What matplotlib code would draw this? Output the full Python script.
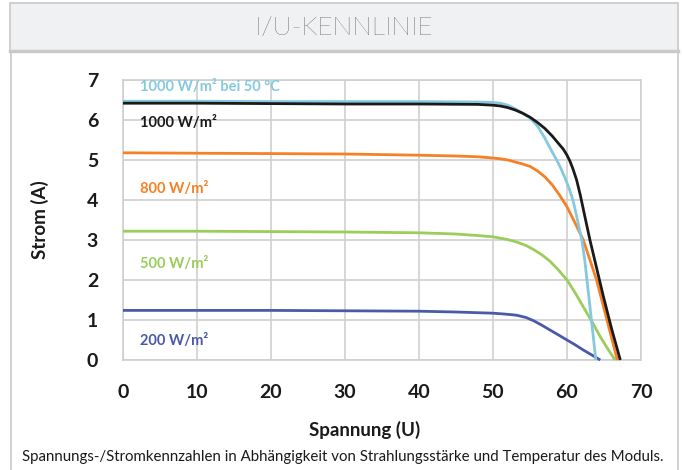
import matplotlib
matplotlib.use("Agg")
import matplotlib.pyplot as plt
from matplotlib.patches import Rectangle
from matplotlib.lines import Line2D

W, H = 682, 470

# ---- data ----
u_black = [0, 10, 20, 30, 40, 48, 50, 51, 52, 53, 54, 55, 56, 57, 58, 59, 59.5, 60,
           60.4, 60.8, 61.3, 61.8, 62.4, 63.1, 64.0, 64.9, 66.0, 67.2]
i_black = [6.42, 6.42, 6.41, 6.40, 6.40, 6.39, 6.37, 6.35, 6.31, 6.25, 6.17, 6.07, 5.94, 5.79, 5.6, 5.38, 5.27, 5.12,
           4.97, 4.78, 4.5, 4.12, 3.6, 3.0, 2.3, 1.6, 0.8, 0.0]

u_cyan = [0, 10, 20, 30, 40, 48, 50, 51, 52, 53, 54, 55, 56, 57, 58, 58.6, 59.2, 59.8, 60.3,
          60.8, 61.3, 61.7, 62.0, 62.4, 62.7, 63.0, 63.3, 63.6, 63.9]
i_cyan = [6.47, 6.47, 6.46, 6.46, 6.46, 6.45, 6.44, 6.42, 6.37, 6.28, 6.17, 6.05, 5.85, 5.55, 5.2, 5.0, 4.78, 4.52, 4.28,
          4.0, 3.6, 3.25, 3.0, 2.5, 2.0, 1.5, 1.0, 0.5, 0.0]

u_orange = [0, 10, 20, 30, 40, 45, 48, 50, 51, 52, 53, 54, 55, 56, 57, 58, 59, 60,
            61, 62.2, 63.1, 64.0, 64.7, 65.4, 66.1, 66.8]
i_orange = [5.18, 5.17, 5.16, 5.15, 5.12, 5.10, 5.08, 5.05, 5.03, 5.0, 4.95, 4.9, 4.84, 4.73, 4.58, 4.38, 4.12, 3.83,
            3.46, 3.0, 2.5, 2.0, 1.5, 1.0, 0.5, 0.0]

u_green = [0, 10, 20, 30, 40, 45, 48, 50, 52, 53.2, 54.5, 55.5, 56.6, 57.7, 58.8, 60,
           61.1, 62.2, 63.4, 64.5, 65.5, 66.5]
i_green = [3.22, 3.22, 3.21, 3.20, 3.18, 3.15, 3.11, 3.08, 3.01, 2.95, 2.86, 2.76, 2.63, 2.47, 2.26, 2.0,
           1.68, 1.33, 0.95, 0.58, 0.28, 0.0]

u_blue = [0, 10, 20, 30, 40, 45, 50, 51.5, 53.2, 54.5, 55.5, 56.6, 57.7, 58.9, 60.0,
          61.1, 62.2, 63.4, 64.5]
i_blue = [1.24, 1.24, 1.24, 1.23, 1.22, 1.20, 1.17, 1.15, 1.12, 1.06, 0.98, 0.87, 0.75, 0.62, 0.5,
          0.38, 0.25, 0.12, 0.0]

series_labels = ["1000 W/m² bei 50 °C", "1000 W/m²", "800 W/m²", "500 W/m²", "200 W/m²"]
label_pos = [(2.3, 6.83), (2.3, 5.93), (2.3, 4.28), (2.3, 2.4), (2.3, 0.48)]
colors = ["#84c9df", "#1a1a1a", "#f58025", "#9acd5c", "#4a5aa8"]

x_ticks = [0, 10, 20, 30, 40, 50, 60, 70]
y_ticks = [0, 1, 2, 3, 4, 5, 6, 7]

title = "I/U-KENNLINIE"
xlabel = "Spannung (U)"
ylabel = "Strom (A)"
caption = "Spannungs-/Stromkennzahlen in Abhängigkeit von Strahlungsstärke und Temperatur des Moduls."

plt.rcParams['font.family'] = ['Lato', 'DejaVu Sans']

fig = plt.figure(figsize=(W / 100, H / 100), dpi=100)
fig.patch.set_facecolor("white")

def fx(px):
    return px / W

def fy(py):
    return 1 - py / H

# header box
fig.add_artist(Rectangle((fx(10), fy(51)), fx(678) - fx(10), fy(3) - fy(51),
                         transform=fig.transFigure, facecolor="#f0f1f3",
                         edgecolor="#c9c9c9", linewidth=1.2))
fig.add_artist(Line2D([fx(10), fx(678)], [fy(50.5), fy(50.5)], transform=fig.transFigure,
                      color="#c9c9c9", linewidth=2.5))
# main box sides
fig.add_artist(Line2D([fx(11), fx(11)], [fy(51), 0], transform=fig.transFigure,
                      color="#c9c9c9", linewidth=1.2))
fig.add_artist(Line2D([fx(678), fx(678)], [fy(51), 0], transform=fig.transFigure,
                      color="#c9c9c9", linewidth=1.2))

fig.text(fx(344), fy(28), title, ha="center", va="center", fontsize=19,
         fontweight="light", color="#1e1e1e")

ax = fig.add_axes([fx(123), fy(360), fx(641) - fx(123), fy(80) - fy(360)])
ax.set_xlim(0, 70)
ax.set_ylim(0, 7)
ax.set_xticks(x_ticks)
ax.set_yticks(y_ticks)
ax.grid(True, color="#d0d0d0", linewidth=1.2)
ax.set_axisbelow(True)
for s in ax.spines.values():
    s.set_color("#d0d0d0")
    s.set_linewidth(1.2)
ax.tick_params(length=0, labelsize=14)
ax.tick_params(axis="x", pad=17)
ax.tick_params(axis="y", pad=18)
for lab in ax.get_xticklabels() + ax.get_yticklabels():
    lab.set_fontweight("bold")
    lab.set_color("#1a1a1a")

series = [(u_cyan, i_cyan), (u_black, i_black), (u_orange, i_orange),
          (u_green, i_green), (u_blue, i_blue)]
order = [4, 3, 2, 0, 1]
for k in order:
    u, i = series[k]
    ax.plot(u, i, color=colors[k], linewidth=2.0, solid_joinstyle="round",
            solid_capstyle="butt", clip_on=False, zorder=3 + (1 if k == 1 else 0))

for k, (txt, (x, y)) in enumerate(zip(series_labels, label_pos)):
    ax.text(x, y, txt, color=colors[k], fontsize=10.5, fontweight="bold",
            ha="left", va="center")

fig.text(fx(365), fy(430), xlabel, ha="center", va="center", fontsize=13.5,
         fontweight="bold", color="#1a1a1a")
fig.text(fx(40), fy(220), ylabel, ha="center", va="center", fontsize=13.5,
         fontweight="bold", color="#1a1a1a", rotation=90)
fig.text(fx(343), fy(457), caption, ha="center", va="center", fontsize=10.8,
         color="#1a1a1a")

fig.savefig("out.png", dpi=100)
